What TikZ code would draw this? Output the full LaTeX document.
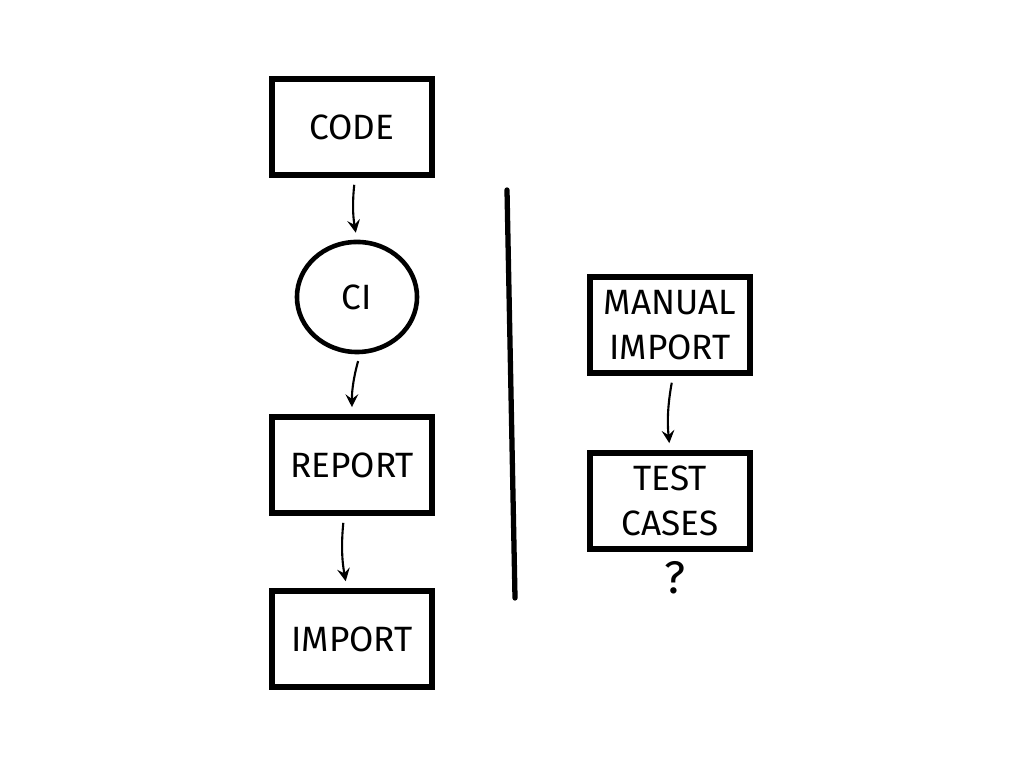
\documentclass[tikz,border=0pt]{standalone}
\usepackage{fontspec}
\setmainfont{Fira Sans}
\usetikzlibrary{arrows,shapes,positioning}
\tikzstyle{box}=[rectangle,draw,line width=1.6pt,minimum width=1.6cm,minimum height=0.96cm,inner sep=1pt,align=center,font=\fontsize{10}{12.7}\selectfont]
\tikzstyle{stage}=[ellipse,draw,line width=1.3pt,minimum width=1.2cm,minimum height=1.1cm,font=\fontsize{10}{12}\selectfont]
\tikzstyle{edge} = [draw,semithick,-stealth,shorten <=2pt,shorten >=2pt]
\tikzstyle{divider} = [draw,line width=1.5pt,line cap=round]

\begin{document}
\begin{tikzpicture}[x=0.01cm,y=-0.01cm]
    \useasboundingbox (0,0) rectangle (1024,768);
    % left side: the automatic flow
    \foreach \pos/\name/\lbl in {{(352,127)/code/CODE},{(352,465)/report/REPORT},{(352,639)/import/IMPORT}}
        \node[box] (\name) at \pos {\lbl};
    \node[stage] (ci) at (357,297) {CI};

    % right side: the manual flow
    \foreach \pos/\name/\lbl in {{(670,325)/manual/{MANUAL\\IMPORT}},{(670,501)/test/{TEST\\CASES}}}
        \node[box] (\name) at \pos {\lbl};
    \node[font=\fontsize{13}{15}\selectfont] (ask) at (675,578) {?};

    % connect the steps
    \foreach \source/\dest/\bend in {code.south/ci.north/8, ci.south/report.north/8, manual.south/test.north/8}
        \path[edge] ([xshift=0.03cm]\source) to[bend right=\bend] (\dest);
    \path[edge] ([xshift=-0.08cm]report.south) to[bend right=8] ([xshift=-0.05cm]import.north);

    % the line between both sides
    \coordinate (top) at (507,190);
    \coordinate (bottom) at (515,598);
    \path[divider] (top) -- (bottom);
\end{tikzpicture}
\end{document}
